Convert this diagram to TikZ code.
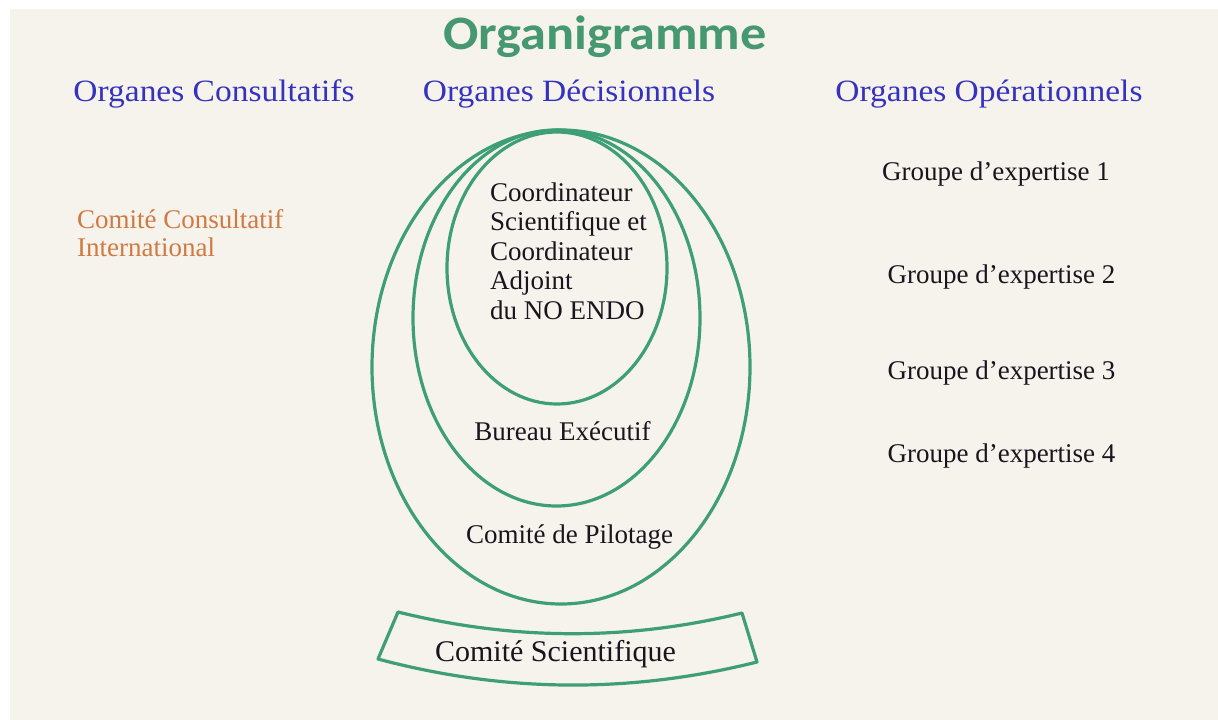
\documentclass[tikz,border=0pt]{standalone}
\usepackage{fontspec}
\setmainfont{Liberation Serif}
\newfontfamily\titlefont{Carlito}
\usetikzlibrary{shapes.geometric}
\definecolor{bgpaper}{RGB}{246,243,236}
\definecolor{ringgreen}{RGB}{62,158,118}
\definecolor{titlegreen}{RGB}{70,152,112}
\definecolor{headblue}{RGB}{52,50,190}
\definecolor{consorange}{RGB}{207,122,66}
\definecolor{inkblack}{RGB}{25,20,30}
\tikzset{
  ring/.style={draw=ringgreen, line width=3.2pt, ellipse, inner sep=0pt},
  heading/.style={anchor=base, inner sep=0pt, text=headblue, font=\fontsize{31}{34}\selectfont, xscale=1.08},
  bodytext/.style={anchor=base, inner sep=0pt, text=inkblack, font=\fontsize{27}{29.5}\selectfont},
  band/.style={draw=ringgreen, line width=3.2pt, line join=round}
}
\begin{document}
\begin{tikzpicture}[x=1pt,y=-1pt]
\useasboundingbox (0,0) rectangle (1218,720);
\fill[white] (0,0) rectangle (1218,720);
\fill[bgpaper] (10,9) rectangle (1218,720);

% title
\node[anchor=base, inner sep=0pt, text=titlegreen, font=\titlefont\bfseries\fontsize{48}{52}\selectfont, xscale=1.09] (title) at (605,49) {Organigramme};

% headings
\node[heading] (hcons) at (214,101) {Organes Consultatifs};
\node[heading] (hdec) at (569,101) {Organes Décisionnels};
\node[heading] (hop) at (989,101) {Organes Opérationnels};

% consultative
\node[anchor=base west, inner sep=0pt, text=consorange, font=\fontsize{27}{28.4}\selectfont] (cci) at (77,228.3)
  {\begin{tabular}[t]{@{}l@{}}Comité Consultatif\\International\end{tabular}};

% decision rings
\node[ring, minimum width=378pt, minimum height=474pt] (pilotage) at (561,367) {};
\node[ring, minimum width=287pt, minimum height=376pt] (bureau) at (556.5,318) {};
\node[ring, minimum width=220pt, minimum height=272pt] (coord) at (557,268) {};

\node[bodytext, anchor=base west] (coordtext) at (490,201)
  {\begin{tabular}[t]{@{}l@{}}Coordinateur\\Scientifique et\\Coordinateur\\Adjoint\\du NO ENDO\end{tabular}};
\node[bodytext] (bureautext) at (562.5,440) {Bureau Exécutif};
\node[bodytext] (pilotagetext) at (569.5,543) {Comité de Pilotage};

% scientific committee band
\coordinate (btl) at (398,612);
\coordinate (btr) at (742,613);
\coordinate (bbr) at (757,662);
\coordinate (bbl) at (378,659);
\draw[band] (btl) .. controls (512.7,640.5) and (627.3,641) .. (btr)
  -- (bbr) .. controls (630.3,693.7) and (504,692.7) .. (bbl) -- cycle;
\node[bodytext, font=\fontsize{30}{33}\selectfont] (sci) at (555.5,661) {Comité Scientifique};

% operational groups
\node[bodytext] (g1) at (996,180) {Groupe d’expertise 1};
\node[bodytext] (g2) at (1001.5,283) {Groupe d’expertise 2};
\node[bodytext] (g3) at (1001.5,379) {Groupe d’expertise 3};
\node[bodytext] (g4) at (1001.5,462) {Groupe d’expertise 4};
\end{tikzpicture}
\end{document}
